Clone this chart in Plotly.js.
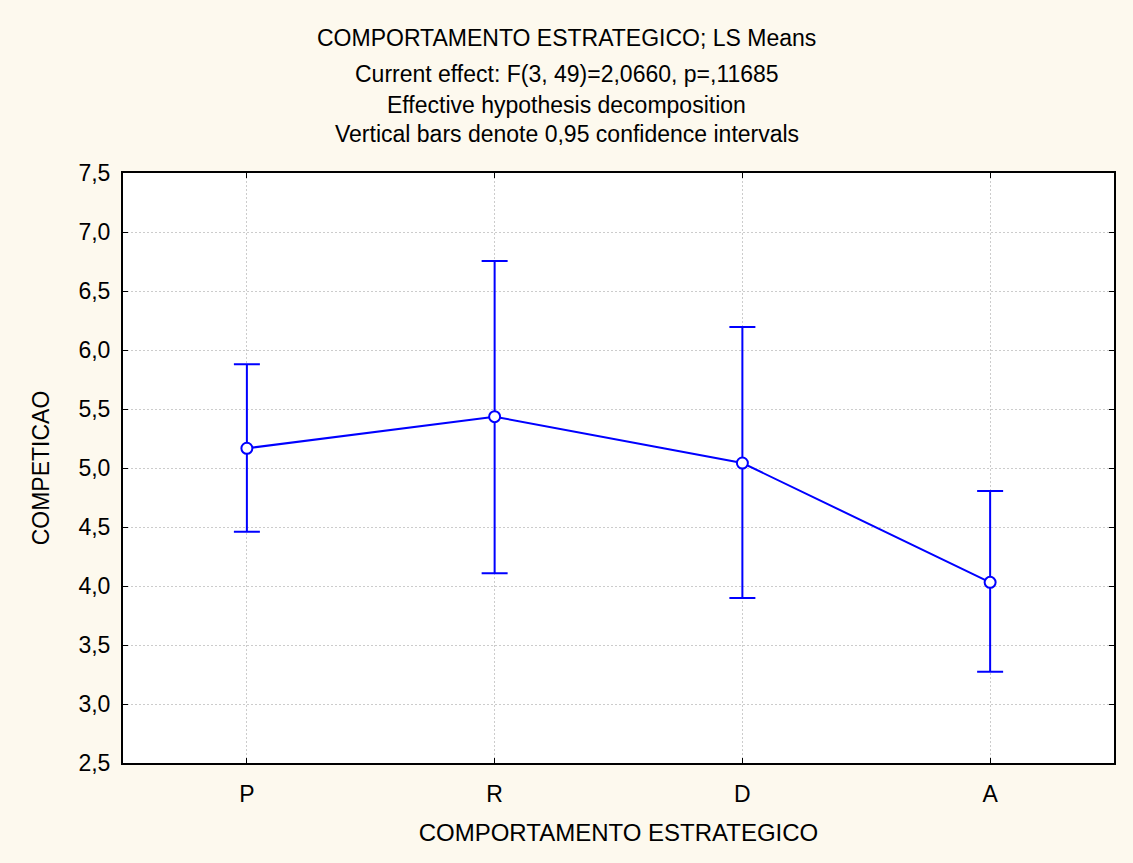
<!DOCTYPE html>
<html>
<head>
<meta charset="utf-8">
<script src="https://cdn.plot.ly/plotly-3.0.1.min.js"></script>
<style>html,body{margin:0;padding:0;background:#fdf9ee;}#chart{width:1133px;height:863px;}</style>
</head>
<body>
<div id="chart"></div>
<script>
const categories = ["P", "R", "D", "A"];
const means = [5.167, 5.435, 5.042, 4.031];
const upper = [5.879, 6.754, 6.195, 4.805];
const lower = [4.460, 4.108, 3.898, 3.274];
const yTicks = [2.5, 3.0, 3.5, 4.0, 4.5, 5.0, 5.5, 6.0, 6.5, 7.0, 7.5];
const yTickLabels = ["2,5", "3,0", "3,5", "4,0", "4,5", "5,0", "5,5", "6,0", "6,5", "7,0", "7,5"];
const titleLines = [
  "COMPORTAMENTO ESTRATEGICO; LS Means",
  "Current effect: F(3, 49)=2,0660, p=,11685",
  "Effective hypothesis decomposition",
  "Vertical bars denote 0,95 confidence intervals"
];

const plus = means.map((m, i) => upper[i] - m);
const minus = means.map((m, i) => m - lower[i]);

const trace = {
  x: categories,
  y: means,
  type: "scatter",
  mode: "lines+markers",
  line: {color: "#0000ff", width: 2},
  marker: {symbol: "circle", size: 11, color: "#ffffff", line: {color: "#0000ff", width: 2}},
  error_y: {type: "data", symmetric: false, array: plus, arrayminus: minus, color: "#0000ff", thickness: 2, width: 13},
  showlegend: false
};

const fam = "Liberation Sans, Arial, sans-serif";
const font = {family: fam, size: 23, color: "#000"};
const titleFont = {family: fam, size: 23, color: "#000"};
const xTitleFont = {family: fam, size: 24, color: "#000"};
const titleY = [38, 74, 105, 134];
const annotations = titleLines.map((t, i) => ({
  text: t, xref: "paper", yref: "paper", x: (566.5 - 123) / 991, xanchor: "center",
  y: 1 + (173 - titleY[i]) / 590, yanchor: "middle", showarrow: false, font: titleFont
}));

const layout = {
  width: 1133, height: 863,
  paper_bgcolor: "#fdf9ee",
  plot_bgcolor: "#ffffff",
  margin: {l: 123, r: 19, t: 173, b: 100},
  font: font,
  annotations: annotations,
  xaxis: {
    type: "category",
    range: [-0.5, 3.5],
    showline: true, linecolor: "#000", linewidth: 2, mirror: "ticks",
    ticks: "inside", ticklen: 5, tickcolor: "#000", tickwidth: 1,
    showgrid: true, gridcolor: "#cccccc", griddash: "2px,2px", gridwidth: 1,
    zeroline: false,
    tickfont: font, ticklabelstandoff: 9,
    title: {text: "COMPORTAMENTO ESTRATEGICO", font: xTitleFont, standoff: 19}
  },
  yaxis: {
    range: [2.5, 7.5],
    tickvals: yTicks, ticktext: yTickLabels,
    showline: true, linecolor: "#000", linewidth: 2, mirror: "ticks",
    ticks: "inside", ticklen: 5, tickcolor: "#000", tickwidth: 1,
    showgrid: true, gridcolor: "#cccccc", griddash: "2px,2px", gridwidth: 1,
    zeroline: false,
    tickfont: font, ticklabelstandoff: 6,
    title: {text: "COMPETICAO", font: font, standoff: 22}
  }
};

Plotly.newPlot("chart", [trace], layout, {displayModeBar: false, staticPlot: true});
</script>
</body>
</html>
